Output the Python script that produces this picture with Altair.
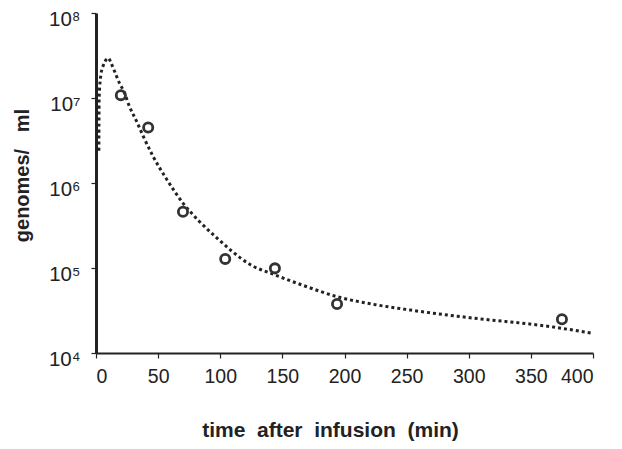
import altair as alt
import pandas as pd

# measured data points
pt_time = [20, 42, 70, 104, 144, 194, 375]
pt_value = [1.08e7, 4.5e6, 4.6e5, 1.28e5, 9.9e4, 3.77e4, 2.49e4]

# fitted (dotted) curve
fit_time = [2.3, 2.5, 4, 6, 8, 10, 12, 15, 19, 22, 27, 33, 38, 46, 57, 70, 83, 96,
            110, 124, 144, 170, 194, 225, 253, 301, 365, 400]
fit_value = [2.4e6, 1.0e7, 1.9e7, 2.45e7, 2.8e7, 2.95e7, 2.6e7, 2.05e7, 1.48e7, 1.23e7,
             7.9e6, 5.2e6, 3.55e6, 2.05e6, 1.1e6, 5.8e5, 3.55e5, 2.35e5, 1.55e5, 1.1e5,
             8.3e4, 6.0e4, 4.6e4, 3.7e4, 3.2e4, 2.6e4, 2.05e4, 1.7e4]

x_ticks = [0, 50, 100, 150, 200, 250, 300, 350, 400]
y_ticks = [1e4, 1e5, 1e6, 1e7, 1e8]

pts = pd.DataFrame({"t": pt_time, "v": pt_value})
fit = pd.DataFrame({"t": fit_time, "v": fit_value})

FONT = "Liberation Sans"
SP = " \u00a0"
SP3 = " \u00a0\u00a0"

xenc = alt.X("t:Q", scale=alt.Scale(domain=[0, 400], nice=False),
             axis=alt.Axis(values=x_ticks, title=f"time{SP}after{SP}infusion{SP}(min)",
                           grid=False, domainColor="#222", domainWidth=2,
                           tickColor="#222", tickSize=5, tickWidth=1.2,
                           labelFontSize=19.5, labelColor="#222", labelPadding=9,
                           titleFontSize=21, titleFontWeight="bold", titleColor="#222",
                           titleX=234, titleY=77, titleBaseline="middle",
                           titleAnchor="middle"))
yenc = alt.Y("v:Q", scale=alt.Scale(type="log", domain=[1e4, 1e8], nice=False),
             axis=alt.Axis(values=y_ticks, title=f"genomes/{SP3}ml",
                           labelExpr="'10' + ['\u2074','\u2075','\u2076','\u2077','\u2078'][round(log(datum.value)/LN10) - 4]",
                           grid=False, domainColor="#222", domainWidth=3,
                           tickColor="#222", tickSize=5, tickWidth=1.2,
                           labelFontSize=20.5, labelColor="#222", labelPadding=11,
                           labelOffset=6, labelBound=False, labelFlush=False,
                           titleFontSize=20, titleFontWeight="bold", titleColor="#222",
                           titleX=-74, titleY=162, titleAngle=270,
                           titleBaseline="middle", titleAlign="center"))

line = alt.Chart(fit).mark_line(
    interpolate="monotone", color="#222", strokeWidth=3, strokeDash=[3, 3], clip=True
).encode(x=xenc, y=yenc)

points = alt.Chart(pts).mark_point(
    shape="circle", size=85, filled=False, color="#333", strokeWidth=2.8, opacity=1
).encode(x="t:Q", y="v:Q")

chart = alt.layer(line, points).properties(
    width=497, height=340,
    autosize=alt.AutoSizeParams(type="none"),
    padding={"left": 88, "top": 5, "right": 21, "bottom": 88},
    background="white",
).configure(font=FONT).configure_view(stroke=None)

chart.save("out.html", embed_options={"renderer": "svg", "actions": False})
